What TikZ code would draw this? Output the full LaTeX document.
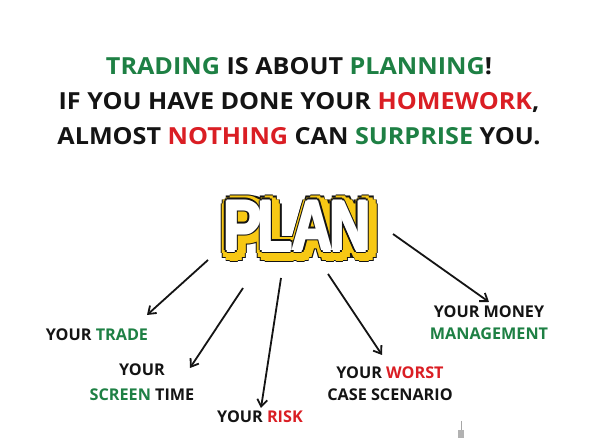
\documentclass[tikz,border=0pt]{standalone}
\usepackage{fontspec}
\setmainfont{Open Sans}
\newfontfamily\planfont{Liberation Sans}
\usetikzlibrary{arrows.meta,calc}
\definecolor{tgreen}{RGB}{30,128,68}
\definecolor{tred}{RGB}{218,30,36}
\definecolor{pyellow}{RGB}{247,200,20}
\definecolor{tblack}{RGB}{20,20,20}
\begin{document}
\begin{tikzpicture}[x=1pt,y=-1pt,
  headline/.style={font=\fontsize{23.5}{26}\selectfont\bfseries, text=tblack, anchor=base, inner sep=0pt, xscale=1.07},
  lab/.style={font=\fontsize{16.2}{20}\selectfont\bfseries, text=tblack, anchor=base, inner sep=0pt},
  arr/.style={draw=tblack, line width=1.8pt, -{Straight Barb[length=7pt,width=10pt,line width=1.8pt]}},
  plantext/.style={font=\planfont\fontsize{72}{72}\selectfont\bfseries, inner sep=0pt, anchor=center, xscale=0.78}]
\useasboundingbox (0,0) rectangle (598,438);
\fill[white] (0,0) rectangle (598,438);

% headline
\node[headline] (h1) at (299,75) {\textcolor{tgreen}{TRADING} IS ABOUT \textcolor{tgreen}{PLANNING}!};
\node[headline] (h2) at (299,110) {IF YOU HAVE DONE YOUR \textcolor{tred}{HOMEWORK},};
\node[headline] (h3) at (299,145) {ALMOST \textcolor{tred}{NOTHING} CAN \textcolor{tgreen}{SURPRISE} YOU.};

% PLAN graphic
\foreach \a in {0,30,...,330}{
  \node[plantext, text=tblack] at ($(300,229)+(\a:9)$) {P\kern-4ptLA\kern-4ptN};
}
\foreach \a in {0,30,...,330}{
  \node[plantext, text=pyellow] at ($(300,229)+(\a:7.8)$) {P\kern-4ptLA\kern-4ptN};
}
\foreach \a in {0,45,...,315}{
  \node[plantext, text=tblack] at ($(297,226)+(\a:2.8)$) {P\kern-4ptLA\kern-4ptN};
}
\foreach \a in {0,90,180,270}{
  \node[plantext, text=white] at ($(297,226)+(\a:1.4)$) {P\kern-4ptLA\kern-4ptN};
}
\node[plantext, text=white] (plan) at (297,226) {P\kern-4ptLA\kern-4ptN};

% labels
\node[lab] (trade) at (97,341) {YOUR \textcolor{tgreen}{TRADE}};
\node[lab] (scr1) at (142,376) {YOUR};
\node[lab] (scr2) at (142,401) {\textcolor{tgreen}{SCREEN} TIME};
\node[lab] (risk) at (260,423) {YOUR \textcolor{tred}{RISK}};
\node[lab] (wor1) at (390,379) {YOUR \textcolor{tred}{WORST}};
\node[lab] (wor2) at (390,401) {CASE SCENARIO};
\node[lab] (mon1) at (489,318) {YOUR MONEY};
\node[lab] (mon2) at (489,340) {\textcolor{tgreen}{MANAGEMENT}};

% arrow coordinates
\coordinate (s1) at (208,260); \coordinate (e1) at (147,315);
\coordinate (s2) at (243,288); \coordinate (e2) at (190,368);
\coordinate (s3) at (281,278); \coordinate (e3) at (261,408);
\coordinate (s4) at (328,274); \coordinate (e4) at (382,355);
\coordinate (s5) at (393,234); \coordinate (e5) at (489,302);
\draw[arr] (s1) -- (e1);
\draw[arr] (s2) -- (e2);
\draw[arr] (s3) -- (e3);
\draw[arr] (s4) -- (e4);
\draw[arr] (s5) -- (e5);

% small gray candle
\coordinate (c1) at (461,421); \coordinate (c2) at (461,438);
\draw[gray!70, line width=0.8pt] (c1) -- (c2);
\fill[gray!60] (458,430) rectangle (464,438);
\end{tikzpicture}
\end{document}
